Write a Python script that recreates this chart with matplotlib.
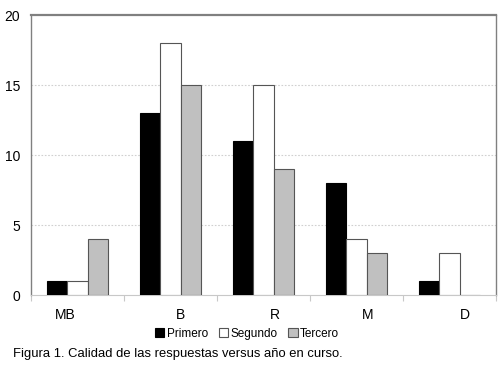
import numpy as np
import matplotlib.pyplot as plt

plt.rcParams['font.family'] = ['Liberation Sans', 'DejaVu Sans']

# data
categorias = ['MB', 'B', 'R', 'M', 'D']
primero = [1, 13, 11, 8, 1]
segundo = [1, 18, 15, 4, 3]
tercero = [4, 15, 9, 3, 0]
series = ['Primero', 'Segundo', 'Tercero']
yticks = [0, 5, 10, 15, 20]

fig = plt.figure(figsize=(5, 3.91), dpi=100)
ax = fig.add_axes([0.062, 0.2455, 0.930, 0.7161])

x = np.arange(len(categorias))
w = 0.222
edge = '#555555'
ax.bar(x - w, primero, w, color='black', edgecolor='black', linewidth=0.8, label=series[0], zorder=3)
ax.bar(x, segundo, w, color='white', edgecolor=edge, linewidth=0.8, label=series[1], zorder=3)
ax.bar(x + w, tercero, w, color='#c0c0c0', edgecolor=edge, linewidth=0.8, label=series[2], zorder=3)

ax.set_xlim(-0.5, len(categorias) - 0.5)
ax.set_ylim(0, 20)
ax.set_yticks(yticks)
ax.set_yticklabels([str(v) for v in yticks], fontsize=10)
ax.tick_params(axis='y', length=0, pad=8)

# category labels sit a bit off-centre, like the original
label_shift = [-0.13, 0.11, 0.12, 0.12, 0.16]
ax.set_xticks(x + np.array(label_shift))
ax.set_xticklabels(categorias, fontsize=10)
ax.tick_params(axis='x', which='major', length=0, pad=9)
ax.set_xticks(np.arange(-0.5, len(categorias)), minor=True)
ax.tick_params(axis='x', which='minor', length=4, color='#c8c8c8', width=0.8)

for v in yticks[1:-1]:
    ax.axhline(v, color='#d0d0d0', linestyle=(0, (1.5, 1.5)), linewidth=0.8, zorder=1)

for s in ['left', 'top', 'right']:
    ax.spines[s].set_color('#808080')
    ax.spines[s].set_linewidth(1.0)
ax.spines['top'].set_linewidth(1.6)
ax.spines['bottom'].set_color('#c8c8c8')
ax.spines['bottom'].set_linewidth(0.8)

fig.legend(loc='center', bbox_to_anchor=(0.494, 0.146), ncol=3, frameon=False,
           fontsize=8.5, handlelength=0.8, handleheight=0.8, handletextpad=0.2,
           columnspacing=0.9, borderpad=0)

fig.text(0.026, 0.094, 'Figura 1. Calidad de las respuestas versus año en curso.',
         fontsize=9.4, va='center', ha='left')

fig.savefig('out.png', dpi=100)
